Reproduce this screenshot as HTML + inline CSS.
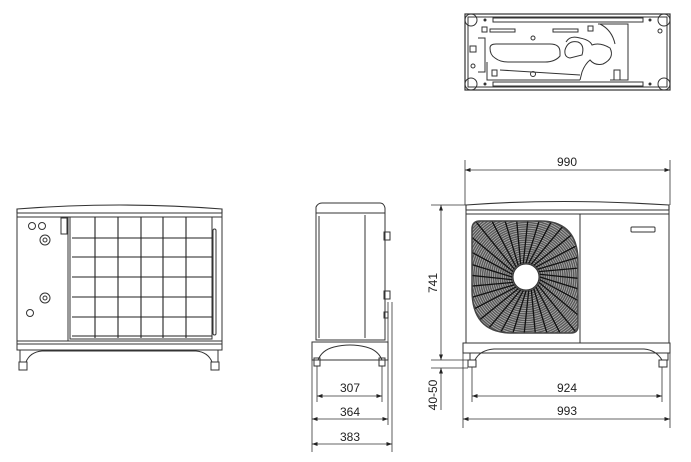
<!DOCTYPE html>
<html><head><meta charset="utf-8"><style>
html,body{margin:0;padding:0;background:#fff;}
svg{display:block}
text{font-family:"Liberation Sans",sans-serif;font-size:12px;fill:#222}
</style></head><body>
<svg width="691" height="462" viewBox="0 0 691 462" xmlns="http://www.w3.org/2000/svg">
<defs>
<marker id="a" markerWidth="8" markerHeight="6" refX="7" refY="3" orient="auto-start-reverse"><path d="M0,0.5 L7,3 L0,5.5z" fill="#222"/></marker>
<clipPath id="fc"><path d="M480,221 L540,221 Q578,221 578,262 L578,326 Q578,333 571,333 L512,333 Q472,333 472,290 L472,229 Q472,221 480,221z"/></clipPath>
</defs>
<g fill="none" stroke="#333" stroke-width="1">
<!-- top view -->
<rect x="465" y="14" width="205" height="76" stroke-width="1.2"/>
<rect x="468" y="17" width="199" height="70"/>
<circle cx="471" cy="20" r="6"/><circle cx="664" cy="20" r="6"/><circle cx="471" cy="84" r="6"/><circle cx="664" cy="84" r="6"/>
<rect x="493" y="18" width="150" height="4"/><rect x="493" y="82" width="150" height="4"/>
<circle cx="485" cy="20" r="1" fill="#333"/><circle cx="650" cy="20" r="1" fill="#333"/><circle cx="485" cy="84" r="1" fill="#333"/><circle cx="650" cy="84" r="1" fill="#333"/>
<rect x="482" y="27" width="5" height="5"/><rect x="490" y="29" width="25" height="3"/><rect x="553" y="29" width="25" height="3"/><rect x="588" y="26" width="5" height="5"/>
<path d="M478,38 L485,38 L485,72 L478,72"/><rect x="470" y="46" width="6" height="6"/>
<path d="M490,48 Q490,44 496,44 L550,44 Q560,44 560,52 L560,56 Q555,62 545,62 L508,62 Q500,62 495,58 Q490,55 490,48z"/>
<path d="M566,42 Q570,35 580,38 Q590,40 592,45 Q600,42 610,48 Q615,58 603,64 Q595,66 590,60 Q585,64 582,72 L580,80"/>
<path d="M565,50 Q568,40 578,42 Q585,45 582,55 L570,58 Q564,57 565,50z"/>
<path d="M598,24 L628,24 L628,80 L610,80"/><path d="M600,24 Q612,30 615,44"/>
<circle cx="533" cy="38" r="2"/><circle cx="533" cy="74" r="2.5"/><circle cx="660" cy="31" r="2"/><circle cx="473" cy="66" r="2"/>
<rect x="492" y="70" width="5" height="6"/><rect x="614" y="70" width="6" height="10"/>
<path d="M487,62 L487,80 L580,80 M500,70 L580,75"/>

<!-- left front view -->
<path d="M17,213 L17,209 Q120,201 222,209 L222,213" stroke-width="1.1"/>
<rect x="17" y="213" width="205" height="128"/>
<line x1="17" y1="217" x2="222" y2="217"/>
<line x1="68" y1="217" x2="68" y2="341"/>
<rect x="70" y="217" width="142" height="122"/>
<g stroke="#222" stroke-width="1.1">
<line x1="95" y1="217" x2="95" y2="338"/><line x1="118" y1="217" x2="118" y2="338"/><line x1="141" y1="217" x2="141" y2="338"/><line x1="163" y1="217" x2="163" y2="338"/><line x1="186" y1="217" x2="186" y2="338"/>
<line x1="72" y1="238" x2="212" y2="238"/><line x1="72" y1="257" x2="212" y2="257"/><line x1="72" y1="277" x2="212" y2="277"/><line x1="72" y1="297" x2="212" y2="297"/><line x1="72" y1="317" x2="212" y2="317"/><line x1="72" y1="336" x2="212" y2="336"/>
</g>
<rect x="213" y="229" width="3" height="106" rx="1.5"/>
<rect x="61" y="218" width="6" height="16"/>
<circle cx="32" cy="226" r="3.5"/><circle cx="42" cy="226" r="3.5"/>
<circle cx="45" cy="240" r="5"/><circle cx="45" cy="240" r="2"/>
<circle cx="45" cy="298" r="5"/><circle cx="45" cy="298" r="2"/>
<circle cx="30" cy="313" r="3.5"/>
<rect x="17" y="341" width="205" height="9"/><line x1="17" y1="344" x2="222" y2="344"/>
<path d="M20,350 L20,362 L26,362 Q30,352 42,351 L196,351 Q208,352 212,362 L218,362 L218,350"/>
<rect x="19" y="362" width="8" height="8"/><rect x="211" y="362" width="8" height="8"/>

<!-- side view -->
<path d="M316,213 L316,207 Q318,203 322,203 L380,203 Q384,203 385,208 L385,213"/>
<rect x="316" y="213" width="69" height="127"/>
<line x1="319" y1="216" x2="319" y2="338"/><line x1="365" y1="215" x2="365" y2="338"/>
<line x1="318" y1="213" x2="383" y2="213"/>
<rect x="384" y="232" width="6" height="8"/><rect x="384" y="291" width="6" height="8"/><rect x="384" y="312" width="4" height="6"/>
<path d="M312,342 L388,342 L388,360 L312,360z"/>
<path d="M318,360 Q322,350 334,347 Q350,343 366,347 Q378,350 382,360"/>
<rect x="314" y="358" width="6" height="8"/><rect x="379" y="358" width="6" height="8"/>

<!-- right front view -->
<path d="M466,210 L466,205 Q560,198 669,205 L669,210" stroke-width="1.1"/>
<rect x="466" y="210" width="203" height="133"/>
<line x1="466" y1="214" x2="669" y2="214"/>
<line x1="580" y1="214" x2="580" y2="343"/>
<rect x="631" y="227" width="24" height="5" rx="1"/>
<rect x="463" y="343" width="207" height="10"/>
<path d="M470,353 L470,360 L475,360 Q480,350 494,349 L644,349 Q656,350 662,360 L668,360 L668,353"/>
<rect x="468" y="360" width="8" height="7"/><rect x="659" y="360" width="8" height="7"/>
</g>
<g clip-path="url(#fc)">
<rect x="470" y="218" width="112" height="118" fill="#5a5a5a"/>
<g id="rings" fill="none" stroke="#bbb" stroke-width="0.7"></g>
<g id="spokes" stroke="#111" stroke-width="1.3"></g>
</g>
<path d="M480,221 L540,221 Q578,221 578,262 L578,326 Q578,333 571,333 L512,333 Q472,333 472,290 L472,229 Q472,221 480,221z" fill="none" stroke="#444" stroke-width="1.5"/>
<circle cx="526" cy="277" r="13" fill="#fff" stroke="#333"/>

<!-- dimensions -->
<g stroke="#333" stroke-width="0.8" fill="none">
<line x1="465" y1="160" x2="465" y2="205"/><line x1="670" y1="160" x2="670" y2="205"/>
<line x1="465" y1="170" x2="670" y2="170" marker-start="url(#a)" marker-end="url(#a)"/>
<line x1="431" y1="205" x2="466" y2="205"/><line x1="431" y1="360" x2="468" y2="360"/><line x1="431" y1="368" x2="468" y2="368"/>
<line x1="441" y1="205" x2="441" y2="360" marker-start="url(#a)" marker-end="url(#a)"/>
<line x1="441" y1="410" x2="441" y2="368" marker-end="url(#a)"/>
<line x1="472" y1="367" x2="472" y2="402"/><line x1="662" y1="367" x2="662" y2="402"/>
<line x1="472" y1="396" x2="662" y2="396" marker-start="url(#a)" marker-end="url(#a)"/>
<line x1="463" y1="353" x2="463" y2="428"/><line x1="670" y1="353" x2="670" y2="428"/>
<line x1="463" y1="419" x2="670" y2="419" marker-start="url(#a)" marker-end="url(#a)"/>
<line x1="317" y1="366" x2="317" y2="402"/><line x1="382" y1="366" x2="382" y2="402"/>
<line x1="317" y1="396" x2="382" y2="396" marker-start="url(#a)" marker-end="url(#a)"/>
<line x1="312" y1="360" x2="312" y2="452"/><line x1="388" y1="302" x2="388" y2="425"/><line x1="392" y1="302" x2="392" y2="452"/>
<line x1="312" y1="419" x2="388" y2="419" marker-start="url(#a)" marker-end="url(#a)"/>
<line x1="312" y1="444" x2="392" y2="444" marker-start="url(#a)" marker-end="url(#a)"/>
</g>
<text x="567" y="166" text-anchor="middle">990</text>
<text x="567" y="392" text-anchor="middle">924</text>
<text x="567" y="415" text-anchor="middle">993</text>
<text x="350" y="392" text-anchor="middle">307</text>
<text x="350" y="416" text-anchor="middle">364</text>
<text x="350" y="441" text-anchor="middle">383</text>
<text transform="translate(437,283) rotate(-90)" text-anchor="middle">741</text>
<text transform="translate(437,395) rotate(-90)" text-anchor="middle">40-50</text>
</svg>
<script>
(function(){var ns="http://www.w3.org/2000/svg",cx=526,cy=277;
var r=document.getElementById("rings"),s=document.getElementById("spokes");
for(var k=16;k<80;k+=2.2){var c=document.createElementNS(ns,"circle");c.setAttribute("cx",cx);c.setAttribute("cy",cy);c.setAttribute("r",k);r.appendChild(c);}
for(var i=0;i<32;i++){var a=i*Math.PI*2/32,l=document.createElementNS(ns,"line");
l.setAttribute("x1",cx+14*Math.cos(a));l.setAttribute("y1",cy+14*Math.sin(a));
l.setAttribute("x2",cx+80*Math.cos(a+0.25));l.setAttribute("y2",cy+80*Math.sin(a+0.25));s.appendChild(l);}})();
</script>
</body></html>
